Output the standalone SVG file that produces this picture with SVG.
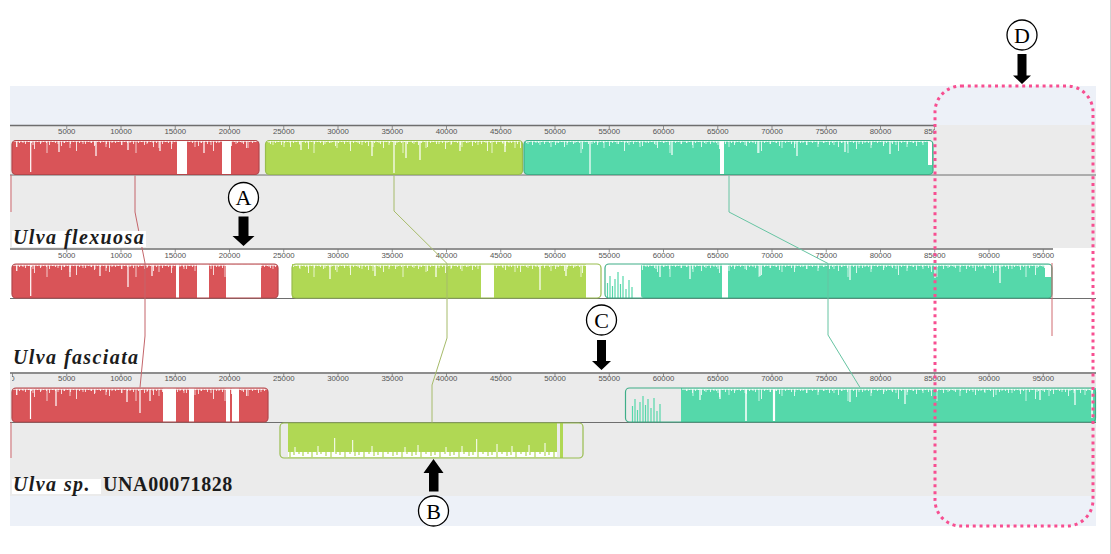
<svg xmlns="http://www.w3.org/2000/svg" xmlns:xlink="http://www.w3.org/1999/xlink" width="1111" height="554" viewBox="0 0 1111 554">
  <style>
    .bgBlue{fill:#edf1f8}
    .bgGray{fill:#ebebeb}
    .rule{stroke:#6e6e6e;stroke-width:1.3;fill:none}
    .base{stroke:#6e6e6e;stroke-width:1;fill:none}
    .tick{stroke:#777;stroke-width:0.8;fill:none}
    .num{font-family:"Liberation Sans",Arial,sans-serif;font-size:7.8px;fill:#555;text-anchor:middle}
    .fRed{fill:#d95458}
    .fGrn{fill:#b0d854}
    .fTea{fill:#55d8aa}
    .oRed{fill:none;stroke:#b3474b;stroke-width:1.2}
    .oGrn{fill:none;stroke:#98bd4e;stroke-width:1.2}
    .oTea{fill:none;stroke:#3fae88;stroke-width:1.2}
    .gap{fill:#fff}
    .cut{stroke:#fff;fill:none}
    .sp1{fill:url(#spikesA)}
    .sp2{fill:url(#spikesB)}
    .tSpk{stroke:#55d8aa;stroke-width:1.2;fill:none}
    .gSpk{stroke:#b0d854;stroke-width:1.2;fill:none}
    .conn{fill:none;stroke-width:1}
    .name{font-family:"Liberation Serif","Times New Roman",serif;font-weight:bold;font-style:italic;font-size:20px;fill:#1c1c1c;letter-spacing:1.4px}
    .circ{fill:#fff;stroke:#000;stroke-width:1.3}
    .clet{font-family:"Liberation Serif","Times New Roman",serif;font-size:22px;fill:#000;text-anchor:middle}
    .arrow{fill:#000}
    .focus{fill:none;stroke:#f74f91;stroke-width:3;stroke-dasharray:3 3.8}
  </style>
  <defs>
    <!-- similarity-profile dips along the top edge of forward blocks; tracks are 124px apart -->
    <pattern id="spikesA" patternUnits="userSpaceOnUse" x="0" y="16" width="137" height="124">
      <rect x="0" y="0" width="137" height="1.6" fill="#fff"/>
      <path stroke="#fff" stroke-width="0.8" fill="none" d="M1.5,0v3 M4.5,0v2 M7.5,0v5 M10.5,0v3 M13.5,0v2 M16.5,0v7 M19.5,0v3 M22.5,0v2 M25.5,0v4 M28.5,0v2 M31.5,0v3 M34.5,0v9 M37.5,0v2 M40.5,0v4 M43.5,0v2 M46.5,0v3 M49.5,0v5 M52.5,0v2 M55.5,0v3 M58.5,0v2 M61.5,0v6 M64.5,0v3 M67.5,0v2 M70.5,0v4 M73.5,0v2 M76.5,0v11 M79.5,0v3 M82.5,0v2 M85.5,0v4 M88.5,0v2 M91.5,0v3 M94.5,0v6 M97.5,0v2 M100.5,0v3 M103.5,0v2 M106.5,0v4 M109.5,0v8 M112.5,0v2 M115.5,0v3 M118.5,0v2 M121.5,0v5 M124.5,0v2 M127.5,0v3 M130.5,0v2 M133.5,0v4"/>
    </pattern>
    <pattern id="spikesB" patternUnits="userSpaceOnUse" x="0" y="16" width="89" height="124">
      <path stroke="#fff" stroke-width="0.7" fill="none" d="M2,0v3 M6,0v5 M11,0v2 M17,0v7 M23,0v3 M29,0v2 M33,0v5 M41,0v3 M47,0v13 M53,0v2 M58,0v4 M64,0v3 M70,0v8 M77,0v2 M83,0v4"/>
    </pattern>
    <clipPath id="clipRule1"><rect x="10" y="118" width="925" height="20"/></clipPath>
    <clipPath id="clipRule3"><rect x="12" y="366" width="1090" height="20"/></clipPath>
  </defs>

  <!-- page -->
  <rect x="0" y="0" width="1111" height="554" fill="#fff"/>
  <line x1="1110.5" y1="0" x2="1110.5" y2="554" stroke="#d4d4d4" stroke-width="1"/>

  <!-- panel backgrounds -->
  <g id="panel">
    <rect class="bgBlue" x="10" y="86" width="1086" height="39"/>
    <rect class="bgGray" x="10" y="125" width="1086" height="123"/>
    <rect fill="#fff" x="10" y="248" width="1086" height="124"/>
    <rect class="bgGray" x="10" y="372" width="1086" height="124"/>
    <rect class="bgBlue" x="10" y="496" width="1086" height="30"/>
  </g>

  <!-- ===== Track 1 : Ulva flexuosa ===== -->
  <g id="track-flexuosa">
    <line class="rule" x1="10" y1="125.5" x2="935" y2="125.5"/>
    <line class="base" x1="10" y1="175" x2="1096" y2="175"/>
    <g clip-path="url(#clipRule1)">
      <path class="tick" d="M66.75,125.5v3.5 M121,125.5v3.5 M175.25,125.5v3.5 M229.5,125.5v3.5 M283.75,125.5v3.5 M338,125.5v3.5 M392.25,125.5v3.5 M446.5,125.5v3.5 M500.75,125.5v3.5 M555,125.5v3.5 M609.25,125.5v3.5 M663.5,125.5v3.5 M717.75,125.5v3.5 M772,125.5v3.5 M826.25,125.5v3.5 M880.5,125.5v3.5 M934.75,125.5v3.5"/>
      <text class="num" x="66.75" y="134">5000</text>
      <text class="num" x="121" y="134">10000</text>
      <text class="num" x="175.25" y="134">15000</text>
      <text class="num" x="229.5" y="134">20000</text>
      <text class="num" x="283.75" y="134">25000</text>
      <text class="num" x="338" y="134">30000</text>
      <text class="num" x="392.25" y="134">35000</text>
      <text class="num" x="446.5" y="134">40000</text>
      <text class="num" x="500.75" y="134">45000</text>
      <text class="num" x="555" y="134">50000</text>
      <text class="num" x="609.25" y="134">55000</text>
      <text class="num" x="663.5" y="134">60000</text>
      <text class="num" x="717.75" y="134">65000</text>
      <text class="num" x="772" y="134">70000</text>
      <text class="num" x="826.25" y="134">75000</text>
      <text class="num" x="880.5" y="134">80000</text>
      <text class="num" x="934.75" y="134">85000</text>
    </g>

    <g id="lcb-red-flexuosa">
      <rect class="fRed" x="12" y="140.5" width="247" height="34" rx="4"/>
      <rect class="sp1" x="13" y="141" width="245" height="18"/>
      <rect class="sp2" x="13" y="141" width="245" height="18"/>
      <rect class="gap" x="177" y="141" width="10" height="33.5"/>
      <rect class="gap" x="222" y="141" width="9" height="33.5"/>
      <path class="cut" stroke-width="1.2" d="M30.7,141V172 M59,141V152 M96,141V156 M128,141V150 M160,141V151 M204,141V153"/>
      <rect class="oRed" x="12" y="140.5" width="247" height="34" rx="4"/>
    </g>
    <g id="lcb-green-flexuosa">
      <rect class="fGrn" x="265.5" y="140.5" width="257" height="34" rx="4"/>
      <rect class="sp1" x="266.5" y="141" width="255" height="18"/>
      <rect class="sp2" x="266.5" y="141" width="255" height="18"/>
      <path class="cut" stroke-width="1.2" d="M394,141V173 M406,141V158 M420,141V160 M372,141V156 M301,141V150 M460,141V151 M505,141V152"/>
      <rect class="oGrn" x="265.5" y="140.5" width="257" height="34" rx="4"/>
    </g>
    <g id="lcb-teal-flexuosa">
      <rect class="fTea" x="524" y="140.5" width="409" height="34" rx="4"/>
      <rect class="sp1" x="525" y="141" width="407" height="18"/>
      <rect class="sp2" x="525" y="141" width="407" height="18"/>
      <rect class="gap" x="720" y="141" width="4" height="33.5"/>
      <rect class="gap" x="928" y="141" width="4" height="24"/>
      <path class="cut" stroke-width="1.2" d="M590,141V174 M672,141V155 M758,141V153 M797,141V156 M845,141V152 M890,141V154"/>
      <rect class="oTea" x="524" y="140.5" width="409" height="34" rx="4"/>
    </g>
  </g>

  <!-- ===== Track 2 : Ulva fasciata ===== -->
  <g id="track-fasciata">
    <line class="rule" x1="10" y1="249" x2="1053" y2="249"/>
    <line class="base" x1="10" y1="298.5" x2="1096" y2="298.5"/>
    <path class="tick" d="M66.75,249v3.5 M121,249v3.5 M175.25,249v3.5 M229.5,249v3.5 M283.75,249v3.5 M338,249v3.5 M392.25,249v3.5 M446.5,249v3.5 M500.75,249v3.5 M555,249v3.5 M609.25,249v3.5 M663.5,249v3.5 M717.75,249v3.5 M772,249v3.5 M826.25,249v3.5 M880.5,249v3.5 M934.75,249v3.5 M989,249v3.5 M1043.25,249v3.5"/>
    <text class="num" x="66.75" y="257.5">5000</text>
    <text class="num" x="121" y="257.5">10000</text>
    <text class="num" x="175.25" y="257.5">15000</text>
    <text class="num" x="229.5" y="257.5">20000</text>
    <text class="num" x="283.75" y="257.5">25000</text>
    <text class="num" x="338" y="257.5">30000</text>
    <text class="num" x="392.25" y="257.5">35000</text>
    <text class="num" x="446.5" y="257.5">40000</text>
    <text class="num" x="500.75" y="257.5">45000</text>
    <text class="num" x="555" y="257.5">50000</text>
    <text class="num" x="609.25" y="257.5">55000</text>
    <text class="num" x="663.5" y="257.5">60000</text>
    <text class="num" x="717.75" y="257.5">65000</text>
    <text class="num" x="772" y="257.5">70000</text>
    <text class="num" x="826.25" y="257.5">75000</text>
    <text class="num" x="880.5" y="257.5">80000</text>
    <text class="num" x="934.75" y="257.5">85000</text>
    <text class="num" x="989" y="257.5">90000</text>
    <text class="num" x="1043.25" y="257.5">95000</text>

    <g id="lcb-red-fasciata">
      <rect class="fRed" x="12" y="264" width="266" height="34" rx="4"/>
      <rect class="sp1" x="13" y="264.5" width="264" height="18"/>
      <rect class="sp2" x="13" y="264.5" width="264" height="18"/>
      <rect class="gap" x="176" y="264.5" width="3" height="33.5"/>
      <rect class="gap" x="197" y="264.5" width="12" height="33.5"/>
      <rect class="gap" x="226" y="264.5" width="35" height="33.5"/>
      <path class="cut" stroke-width="1.2" d="M30.7,265V296 M128,265V287 M70,265V277 M100,265V276 M152,265V276"/>
      <rect class="oRed" x="12" y="264" width="266" height="34" rx="4"/>
    </g>
    <g id="lcb-green-fasciata">
      <rect class="fGrn" x="292" y="264" width="294" height="34"/>
      <rect class="sp1" x="293" y="264.5" width="293" height="18"/>
      <rect class="sp2" x="293" y="264.5" width="293" height="18"/>
      <rect class="gap" x="481" y="264.5" width="13" height="33.5"/>
      <path class="cut" stroke-width="1.2" d="M330,265V279 M375,265V276 M436,265V277 M540,265V290 M566,265V276"/>
      <rect class="oGrn" x="292" y="264" width="309" height="34" rx="4"/>
    </g>
    <g id="lcb-teal-fasciata">
      <rect class="fTea" x="641" y="264" width="411" height="34" rx="3"/>
      <rect class="sp1" x="642" y="264.5" width="409" height="18"/>
      <rect class="sp2" x="642" y="264.5" width="409" height="18"/>
      <rect class="gap" x="722" y="264.5" width="6" height="33.5"/>
      <rect class="gap" x="1045" y="265" width="6" height="12"/>
      <path class="cut" stroke-width="1.2" d="M660,265V277 M690,265V279 M760,265V276 M850,265V280 M935,265V278 M1000,265V283"/>
      <path class="tSpk" d="M607.5,298V283 M610,298V276 M612.5,298V286 M615,298V279 M618,298V272 M620.5,298V284 M623,298V276 M626,298V289 M629,298V280 M632,298V287"/>
      <rect class="oTea" x="605" y="264" width="447" height="34" rx="4"/>
    </g>
  </g>

  <!-- ===== Track 3 : Ulva sp. UNA00071828 ===== -->
  <g id="track-ulva-sp">
    <line class="rule" x1="10" y1="373" x2="1096" y2="373"/>
    <line class="base" x1="10" y1="422.5" x2="1096" y2="422.5"/>
    <g clip-path="url(#clipRule3)">
      <path class="tick" d="M12.5,373v3.5 M66.75,373v3.5 M121,373v3.5 M175.25,373v3.5 M229.5,373v3.5 M283.75,373v3.5 M338,373v3.5 M392.25,373v3.5 M446.5,373v3.5 M500.75,373v3.5 M555,373v3.5 M609.25,373v3.5 M663.5,373v3.5 M717.75,373v3.5 M772,373v3.5 M826.25,373v3.5 M880.5,373v3.5 M934.75,373v3.5 M989,373v3.5 M1043.25,373v3.5"/>
      <text class="num" x="12.5" y="381">0</text>
      <text class="num" x="66.75" y="381">5000</text>
      <text class="num" x="121" y="381">10000</text>
      <text class="num" x="175.25" y="381">15000</text>
      <text class="num" x="229.5" y="381">20000</text>
      <text class="num" x="283.75" y="381">25000</text>
      <text class="num" x="338" y="381">30000</text>
      <text class="num" x="392.25" y="381">35000</text>
      <text class="num" x="446.5" y="381">40000</text>
      <text class="num" x="500.75" y="381">45000</text>
      <text class="num" x="555" y="381">50000</text>
      <text class="num" x="609.25" y="381">55000</text>
      <text class="num" x="663.5" y="381">60000</text>
      <text class="num" x="717.75" y="381">65000</text>
      <text class="num" x="772" y="381">70000</text>
      <text class="num" x="826.25" y="381">75000</text>
      <text class="num" x="880.5" y="381">80000</text>
      <text class="num" x="934.75" y="381">85000</text>
      <text class="num" x="989" y="381">90000</text>
      <text class="num" x="1043.25" y="381">95000</text>
    </g>

    <g id="lcb-red-ulva-sp">
      <rect class="fRed" x="12" y="388" width="256" height="34" rx="4"/>
      <rect class="sp1" x="13" y="388.5" width="254" height="18"/>
      <rect class="sp2" x="13" y="388.5" width="254" height="18"/>
      <rect class="gap" x="163" y="388.5" width="13" height="33.5"/>
      <rect class="gap" x="189" y="388.5" width="5" height="33.5"/>
      <rect class="gap" x="226" y="388.5" width="4" height="33.5"/>
      <rect class="gap" x="232" y="388.5" width="7" height="33.5"/>
      <path class="cut" stroke-width="1.2" d="M30.5,389V419 M56,389V406 M127,389V402 M140,389V413 M150,389V401"/>
      <rect class="oRed" x="12" y="388" width="256" height="34" rx="4"/>
    </g>
    <g id="lcb-teal-ulva-sp">
      <rect class="fTea" x="681" y="388" width="415" height="34"/>
      <rect class="sp1" x="682" y="388.5" width="413" height="18"/>
      <rect class="sp2" x="682" y="388.5" width="413" height="18"/>
      <path class="cut" stroke-width="1.5" d="M746,389V421 M1092,389V418"/>
      <path class="cut" stroke-width="2.2" d="M774,389V421"/>
      <path class="cut" stroke-width="1.2" d="M700,389V400 M720,389V399 M850,389V402 M905,389V404 M1040,389V400 M1075,389V405"/>
      <path class="tSpk" d="M632.5,422V406 M635,422V399 M637.5,422V410 M640,422V402 M643,422V396 M645.5,422V405 M648,422V399 M651,422V408 M654,422V398 M657,422V411 M660,422V404"/>
      <rect class="oTea" x="625.5" y="388" width="470" height="34" rx="4"/>
    </g>
    <g id="lcb-green-ulva-sp">
      <rect class="fGrn" x="288" y="423" width="269" height="35"/>
      <rect class="fGrn" x="560" y="423" width="3" height="35"/>
      <!-- reverse-strand profile: dips rise from the lower edge -->
      <rect class="gap" x="288" y="452" width="269" height="5.5"/>
      <path class="gSpk" d="M290,452v5 M294,452v3 M299,452v2 M303,452v4 M308,452v2 M312,452v5 M317,452v3 M321,452v2 M326,452v4 M331,452v5 M336,452v2 M340,452v3 M345,452v5 M350,452v2 M355,452v4 M359,452v3 M364,452v5 M369,452v2 M374,452v4 M378,452v3 M383,452v5 M388,452v2 M393,452v4 M397,452v3 M402,452v5 M407,452v2 M412,452v4 M416,452v3 M421,452v5 M426,452v2 M431,452v4 M435,452v3 M440,452v5 M445,452v2 M450,452v4 M454,452v3 M459,452v5 M464,452v2 M469,452v4 M473,452v3 M478,452v5 M483,452v2 M488,452v4 M492,452v3 M497,452v5 M502,452v2 M507,452v4 M511,452v3 M516,452v5 M521,452v2 M526,452v4 M530,452v3 M535,452v5 M540,452v2 M545,452v4 M549,452v3 M554,452v5"/>
      <path class="cut" stroke-width="1" d="M334.7,452V438 M352.7,452V440 M476.7,452V439 M295,452V447 M318,452V446 M372,452V446 M405,452V447 M418,452V445 M446,452V447 M462,452V446 M497,452V444 M512,452V446 M529,452V445 M545,452V443"/>
      <rect class="oGrn" x="280" y="423" width="303" height="35" rx="4"/>
    </g>
  </g>

  <!-- ===== connectors between homologous blocks ===== -->
  <g id="connectors">
    <polyline class="conn" stroke="#c4656a" points="135,175.5 135,212 145,263 145,336 140,387.5"/>
    <polyline class="conn" stroke="#a6bb6a" points="394,175.5 394,211 447,263.5 447,338 432,385 432,422.5"/>
    <polyline class="conn" stroke="#66c4a2" points="729,175.5 729,212 828,263.5 828,335 860,387.5"/>
    <path class="conn" stroke="#d06a70" d="M11,175V212 M11,422V458 M1052,263V336"/>
  </g>

  <!-- ===== genome names ===== -->
  <g id="names">
    <rect fill="#fff" x="12" y="231" width="134" height="16"/>
    <text class="name" x="13" y="244">Ulva flexuosa</text>
    <text class="name" x="13" y="364">Ulva fasciata</text>
    <rect fill="#fff" x="12" y="479" width="89" height="15"/>
    <text class="name" x="13" y="491" font-size="21"><tspan>Ulva sp.</tspan><tspan x="103" font-style="normal" letter-spacing="0.6">UNA00071828</tspan></text>
  </g>

  <!-- ===== callouts ===== -->
  <g id="callout-A">
    <circle class="circ" cx="243.5" cy="197.5" r="15"/>
    <text class="clet" x="243.5" y="205">A</text>
    <path class="arrow" d="M238.5,216.5H248.5V236H254.5L243.5,246L232.5,236H238.5Z"/>
  </g>
  <g id="callout-B">
    <circle class="circ" cx="433.5" cy="511" r="15"/>
    <text class="clet" x="433.5" y="518.5">B</text>
    <path class="arrow" d="M429,491.5H438.5V473H443.5L433.5,459L423.5,473H429Z"/>
  </g>
  <g id="callout-C">
    <circle class="circ" cx="601.5" cy="320" r="15"/>
    <text class="clet" x="601.5" y="327.5">C</text>
    <path class="arrow" d="M597,340H606V361H611L601.5,370L592,361H597Z"/>
  </g>
  <g id="callout-D">
    <circle class="circ" cx="1022" cy="35" r="15"/>
    <text class="clet" x="1022" y="42.5">D</text>
    <path class="arrow" d="M1017.5,54H1026.5V75.5H1031L1022,84L1013,75.5H1017.5Z"/>
  </g>
  <g id="region-D">
    <rect class="focus" x="935" y="86" width="158" height="440" rx="26"/>
  </g>
</svg>
